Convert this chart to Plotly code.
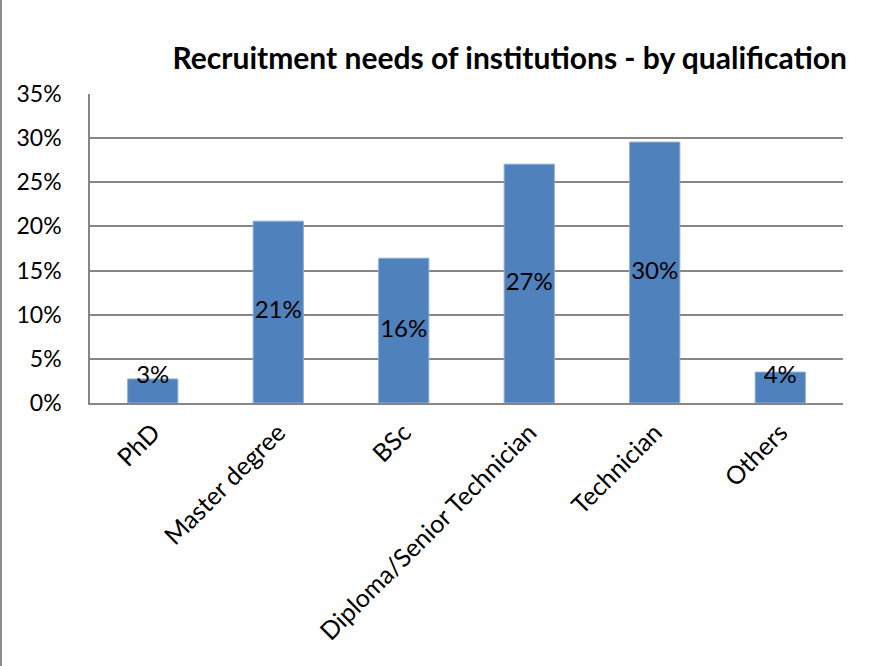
import plotly.graph_objects as go

categories = ["PhD", "Master degree", "BSc", "Diploma/Senior Technician", "Technician", "Others"]
shares = [0.0272, 0.206, 0.164, 0.2705, 0.2955, 0.035]

W, H = 872, 666
ml, mr, mt, mb = 90, 29, 94, 263

# label height: middle of each bar, kept above the axis floor for short bars
label_y = [max(v / 2, 0.03) for v in shares]

fig = go.Figure()
fig.add_trace(go.Bar(
    x=categories, y=shares,
    marker=dict(color="#4F81BD", line=dict(color="#8EACD6", width=1)),
    width=0.4,
    hoverinfo="skip",
))
fig.add_trace(go.Scatter(
    x=categories, y=label_y, mode="text",
    text=[f"{round(v * 100)}%" for v in shares],
    textfont=dict(family="Lato", size=24, color="black"),
    hoverinfo="skip",
))

pw = W - ml - mr
ph = H - mt - mb
border = "#8c8c8c"
fig.add_shape(type="line", xref="paper", yref="paper",
              x0=-ml / pw, x1=(W - ml) / pw, y0=(H - mt - 1) / ph, y1=(H - mt - 1) / ph,
              line=dict(color=border, width=2))
fig.add_shape(type="line", xref="paper", yref="paper",
              x0=-(ml - 1) / pw, x1=-(ml - 1) / pw, y0=-mb / ph, y1=(H - mt) / ph,
              line=dict(color=border, width=2))

fig.update_layout(
    width=W, height=H,
    margin=dict(l=ml, r=mr, t=mt, b=mb),
    plot_bgcolor="white", paper_bgcolor="white",
    showlegend=False,
    font=dict(family="Lato", size=24, color="black"),
    title=dict(text="<b>Recruitment needs of institutions - by qualification</b>",
               font=dict(family="Lato", size=30, color="black"),
               x=1 - 25 / W, xanchor="right", y=1 - 58 / H, yanchor="middle"),
    xaxis=dict(showline=True, linecolor="#868686", linewidth=2,
               tickangle=-45, ticks="", ticklabelstandoff=3,
               tickfont=dict(size=25), fixedrange=True),
    yaxis=dict(range=[0, 0.35], dtick=0.05, tickformat=".0%",
               showgrid=True, gridcolor="#868686", gridwidth=1.5,
               showline=True, linecolor="#868686", linewidth=1.5,
               zeroline=False, ticks="", ticklabelstandoff=22,
               tickfont=dict(size=23), fixedrange=True),
)

fig.write_html("out.html")
